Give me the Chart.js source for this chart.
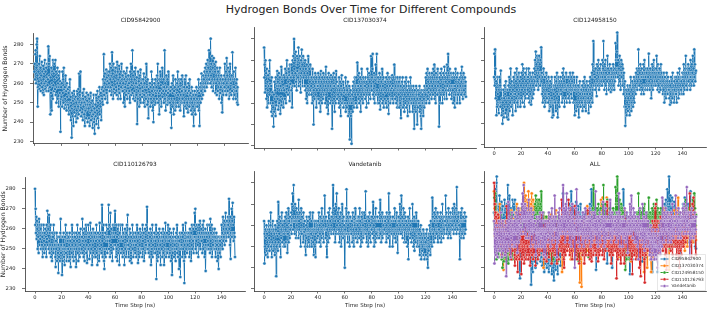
<!DOCTYPE html>
<html><head><meta charset="utf-8">
<script src="https://cdn.jsdelivr.net/npm/chart.js@4.4.1/dist/chart.umd.min.js"></script>
<style>
html,body{margin:0;padding:0;background:#fff;}
#wrap{position:relative;width:708px;height:310px;overflow:hidden;font-family:"DejaVu Sans",sans-serif;}
canvas{position:absolute;}
.t{position:absolute;white-space:nowrap;color:#222;transform:translate(-50%,-50%);line-height:1;}
</style></head><body><div id="wrap"></div>
<script>
// ---------- data ----------
const timeStepNs = 0.25;
const xTickLabels = [0,20,40,60,80,100,120,140];
const yTickLabels = [230,240,250,260,270,280];
const compounds = ['CID95842900','CID137030374','CID124958150','CID110126793','Vandetanib'];

const hbCID95842900 = [
266,270,262,275,277,260,268,280,283,264,248,258,266,261,270,257,274,263,268,256,
264,260,271,258,266,255,269,262,254,265,260,272,257,266,261,268,256,263,270,259,
262,279,256,270,264,274,258,244,263,255,268,246,260,266,252,272,259,265,256,270,
262,257,272,254,266,250,263,258,268,252,260,264,248,258,266,255,261,235,252,258,
253,260,248,266,255,262,250,268,257,247,258,252,264,249,256,246,260,253,250,257,
249,255,244,258,250,262,246,253,241,250,232,247,255,243,251,238,248,256,245,252,
248,243,253,240,250,246,256,242,252,248,257,244,265,250,254,246,266,249,243,252,
250,245,255,241,252,248,257,244,250,238,253,246,249,242,255,247,251,240,249,254,
247,242,252,238,249,245,255,241,250,246,243,251,237,248,244,254,240,247,234,245,
249,243,254,239,251,246,256,242,250,237,253,247,258,244,251,248,255,241,252,257,
252,258,249,262,256,275,254,260,265,252,262,258,267,255,263,250,261,266,258,264,
260,266,256,270,262,258,268,254,264,276,259,265,252,270,262,257,268,261,255,266,
268,258,264,254,271,260,266,252,262,257,269,255,263,260,252,266,258,270,256,262,
264,256,260,250,266,258,262,248,258,265,254,261,256,268,252,262,259,264,255,260,
256,262,250,266,258,270,254,262,259,277,255,264,252,260,266,256,262,251,268,258,
260,254,263,239,258,252,266,256,261,248,259,264,254,267,250,260,256,262,253,258,
256,262,250,265,254,260,248,258,263,252,270,255,258,249,262,254,242,257,252,260,
254,260,248,258,252,266,250,256,262,246,254,240,258,252,260,249,256,262,250,255,
258,252,264,256,270,250,260,255,244,262,256,266,252,259,248,262,255,268,253,258,
256,262,250,258,277,252,260,246,256,264,254,258,249,262,255,266,250,257,252,258,
250,256,245,258,237,252,260,248,255,264,250,244,256,252,258,246,262,250,254,248,
255,260,250,266,254,258,248,262,252,257,246,260,254,262,250,256,264,252,258,250,
254,243,258,250,262,248,256,264,252,247,258,250,255,245,260,252,256,248,262,254,
250,255,246,252,258,244,250,256,248,254,238,252,246,256,250,244,254,248,258,250,
252,248,256,250,262,246,255,238,252,258,250,260,256,265,252,262,258,254,264,260,
262,258,266,256,268,260,264,270,258,266,262,272,260,268,264,277,262,270,266,260,
283,264,270,258,274,262,268,256,266,273,260,270,262,266,255,271,260,264,254,268,
262,256,266,258,264,252,260,268,255,262,258,264,250,260,245,256,262,254,260,258,
264,258,270,256,262,266,254,273,260,264,256,268,258,262,252,266,260,270,255,262,
260,254,264,256,276,258,262,252,266,258,254,262,256,268,252,260,256,262,250,258,
249];

const hbCID137030374 = [
276,262,268,255,270,258,264,252,266,248,260,256,263,250,258,265,254,270,259,262,
250,258,246,262,244,255,250,248,239,254,246,260,252,256,244,262,249,253,258,265,
252,260,247,258,264,250,256,262,245,258,253,267,249,256,260,252,262,248,257,263,
256,262,252,266,258,250,264,255,270,258,262,254,260,266,256,263,251,268,259,262,
262,256,268,248,264,270,258,272,262,280,266,258,270,264,274,260,268,256,272,265,
268,262,276,258,270,264,272,260,266,255,270,264,275,262,268,258,272,266,262,270,
264,258,270,256,266,252,262,268,250,264,258,272,256,262,254,266,260,268,256,262,
258,254,262,250,266,256,260,240,256,262,252,258,264,254,260,248,262,256,258,252,
258,264,252,260,250,262,256,246,258,265,254,260,250,262,256,252,264,258,254,260,
256,262,250,258,267,254,260,248,262,256,245,258,264,252,260,256,262,250,258,263,
256,260,238,254,262,250,258,264,252,258,246,262,256,250,265,254,260,252,258,256,
254,258,250,262,248,256,260,252,244,258,254,263,250,256,252,260,248,257,255,250,
256,250,262,246,254,258,248,256,250,260,244,254,252,258,246,233,250,256,244,252,
231,250,254,246,258,252,260,248,256,250,262,254,258,250,262,256,248,269,258,254,
258,252,264,250,260,256,262,246,258,254,266,252,260,256,250,262,258,254,260,256,
258,252,262,256,248,260,254,266,256,262,250,258,264,254,260,256,252,262,272,258,
256,262,266,273,254,260,252,264,258,250,262,256,268,254,262,273,256,260,250,262,
254,260,250,264,256,247,258,262,252,260,256,266,250,258,254,262,248,256,260,252,
255,260,250,262,256,248,258,264,252,260,245,256,262,254,258,250,260,256,252,262,
257,263,252,258,250,262,256,268,254,260,252,258,262,250,256,260,248,262,256,258,
254,260,248,256,262,250,258,243,256,252,260,254,262,248,256,252,258,246,254,260,
250,256,262,248,258,252,256,244,254,260,250,258,252,246,256,262,250,254,258,250,
252,256,246,254,258,250,238,252,256,248,254,246,258,250,254,240,252,248,256,250,
254,250,258,246,252,256,244,238,250,256,248,254,250,244,256,252,248,258,250,256,
254,262,250,264,258,256,266,252,260,255,262,250,264,258,254,262,256,260,252,264,
258,262,254,266,256,260,268,252,262,258,250,264,260,256,262,254,266,258,260,256,
239,256,262,250,264,258,254,266,256,260,250,262,256,264,254,260,267,252,258,262,
260,256,264,252,268,258,262,273,256,264,260,254,266,258,262,256,264,252,262,258,
262,256,250,264,258,254,262,248,258,266,254,260,256,262,250,264,258,254,260,256,
261,256,250,262,258,264,254,260,267,256,262,252,258,264,256,260,254,262,258,260,
253];

const hbCID124958150 = [
262,273,258,275,266,252,260,244,256,248,262,254,250,258,245,256,262,250,258,248,
265,250,256,244,252,240,250,246,256,243,252,258,248,254,245,260,250,256,243,252,
248,256,242,258,252,262,246,256,250,266,254,248,260,252,258,244,256,250,262,254,
258,250,264,254,246,260,252,266,256,250,262,248,258,254,264,252,260,256,248,262,
258,252,264,256,268,250,260,254,266,258,248,262,256,264,252,260,258,266,254,262,
256,262,252,266,258,250,260,264,254,258,249,262,256,260,252,264,258,254,262,256,
266,260,270,262,274,258,268,264,272,260,266,256,270,264,272,262,268,258,270,264,
276,260,264,254,262,250,258,266,252,256,248,262,254,258,250,264,256,252,260,254,
258,250,262,254,246,258,252,260,248,256,250,262,252,243,256,250,244,254,258,250,
256,262,250,258,246,260,252,264,254,243,258,250,262,256,248,260,254,258,262,256,
254,260,250,264,258,252,266,256,260,248,262,256,258,252,264,256,250,262,258,254,
258,252,262,256,260,250,264,256,258,254,262,252,260,256,264,258,250,258,262,256,
244,256,250,258,246,254,262,250,256,248,258,252,243,256,250,260,254,248,256,252,
256,250,258,246,254,260,252,256,248,262,254,250,258,246,256,252,260,254,250,258,
252,245,256,250,260,254,262,248,256,252,258,264,250,268,256,279,262,258,266,260,
262,256,266,258,264,253,268,260,264,258,270,262,256,266,260,264,258,268,262,260,
264,258,270,262,266,279,260,264,256,268,262,270,258,264,254,266,260,272,262,266,
262,256,264,258,268,260,262,255,266,258,262,256,264,260,268,258,262,256,264,260,
266,278,262,270,264,274,283,266,262,270,258,266,264,272,260,268,256,264,270,262,
264,268,258,266,260,254,264,256,248,260,239,252,248,256,244,254,250,258,246,252,
256,248,254,244,258,250,262,252,246,256,250,260,254,248,258,252,262,250,256,260,
258,254,264,256,262,266,256,260,258,275,262,266,258,264,256,268,260,262,254,266,
262,256,264,258,268,254,262,270,258,264,256,262,266,258,264,260,256,266,262,258,
273,260,264,256,266,258,262,252,264,258,268,260,256,264,262,270,258,266,260,264,
262,258,266,272,260,264,256,268,262,258,264,255,266,260,262,256,268,260,264,258,
258,262,254,260,256,264,250,258,262,254,260,252,258,264,256,260,254,262,258,256,
256,252,260,249,258,254,262,250,256,260,252,264,256,254,258,250,260,256,262,254,
258,254,262,250,260,256,264,258,252,262,256,266,254,260,258,262,256,260,254,262,
264,258,262,254,268,260,264,256,266,262,272,258,264,260,256,266,262,268,260,264,
266,258,262,256,270,262,264,258,268,260,264,272,262,266,258,275,262,268,260,264,
265];

const hbCID110126793 = [
280,262,270,258,266,255,264,260,250,262,256,248,265,258,252,262,255,260,250,258,
262,252,256,246,258,250,262,254,248,258,252,260,250,256,246,262,255,269,252,258,
260,250,267,254,248,258,252,262,246,256,250,244,258,252,256,248,262,250,254,258,
252,246,241,254,250,258,244,252,256,248,238,252,246,256,250,244,258,265,248,252,
256,237,250,244,256,250,258,246,252,242,256,250,262,248,254,244,258,250,246,254,
250,256,244,252,258,246,254,241,250,256,248,262,252,246,256,250,244,254,258,250,
256,246,252,241,258,250,254,262,248,256,244,252,258,250,246,256,252,260,248,254,
250,256,265,248,254,258,246,252,260,244,256,250,254,262,248,252,243,256,250,258,
262,250,256,245,258,252,263,248,254,250,258,242,256,252,260,248,254,258,246,256,
250,258,246,254,262,248,256,242,252,258,250,256,244,254,263,250,256,248,258,252,
248,272,254,246,258,250,262,244,240,256,250,258,246,254,262,250,256,248,254,260,
256,272,250,262,254,246,268,256,252,260,248,258,244,256,262,250,258,252,256,262,
269,252,258,246,262,250,256,244,260,252,248,262,254,242,258,250,256,262,248,254,
256,250,262,246,254,258,248,256,242,252,260,250,256,246,258,252,262,254,267,250,
252,246,256,250,260,244,254,258,248,256,243,252,262,250,254,246,258,252,256,248,
254,248,258,252,246,256,262,250,254,243,258,250,256,246,252,260,248,256,250,254,
250,258,246,262,254,250,258,244,256,252,260,248,256,252,262,250,271,254,258,250,
254,248,258,252,246,256,260,250,242,254,258,250,262,246,252,256,248,254,258,250,
256,248,254,262,235,250,256,244,252,258,246,254,250,260,248,256,252,242,254,258,
250,256,246,254,260,248,256,242,252,258,250,263,254,246,256,250,258,248,254,262,
250,256,246,254,260,248,256,252,244,258,250,237,254,248,256,250,260,246,254,252,
250,256,244,254,258,250,262,248,254,246,256,252,240,254,250,258,236,252,256,250,
252,258,246,256,262,250,254,244,233,252,258,246,263,254,250,256,248,258,252,254,
256,250,258,246,254,260,250,256,244,258,252,262,250,256,254,260,248,256,262,268,
256,270,250,260,254,248,262,256,252,258,246,256,262,250,258,264,254,250,256,260,
254,258,248,262,256,250,264,252,258,246,256,260,239,252,258,250,256,262,250,254,
252,258,250,262,256,248,265,254,258,250,262,246,256,260,252,256,250,258,254,260,
250,256,246,254,258,250,252,244,256,248,254,240,250,256,248,254,252,246,256,250,
262,256,258,250,266,254,260,256,264,252,262,258,268,254,260,256,264,262,258,266,
262,256,275,260,264,252,266,245,258,262,270,256,264,273,258,262,254,266,258,256,
246];

const hbVandetanib = [
262,242,256,250,258,246,254,260,248,256,252,245,258,250,262,254,248,258,252,260,
266,250,256,245,258,252,262,248,254,258,250,256,246,260,252,258,236,250,256,262,
255,248,271,252,260,256,264,250,258,245,262,254,258,266,252,260,256,262,250,258,
256,262,250,264,258,252,266,256,260,247,262,256,268,252,258,262,254,264,258,260,
260,266,256,270,262,275,258,264,279,262,268,256,270,262,264,254,268,260,266,262,
258,264,254,272,262,258,266,256,264,250,268,260,256,264,258,262,252,266,258,262,
257,262,250,258,246,260,254,264,256,250,262,256,258,252,264,256,250,266,258,254,
256,262,250,258,254,266,252,258,246,256,262,250,258,245,256,262,252,258,254,260,
255,262,258,266,252,260,256,264,250,258,262,254,268,258,262,256,260,252,264,258,
274,258,262,254,264,258,250,245,258,262,252,266,256,260,254,268,258,262,256,264,
260,256,264,258,266,279,262,256,268,258,264,252,262,270,256,264,275,260,258,266,
262,256,268,258,252,264,260,256,266,250,262,258,270,256,262,254,264,258,260,256,
240,258,262,256,268,277,262,256,264,252,260,266,256,262,250,258,264,256,262,258,
256,262,252,260,266,254,258,250,264,256,260,268,254,262,258,256,262,252,260,264,
262,256,264,254,268,258,262,250,260,256,264,252,266,258,260,254,262,258,266,256,
262,258,276,256,262,252,264,258,260,250,264,256,262,254,266,258,260,252,264,258,
258,264,256,262,271,254,260,250,262,258,264,252,268,256,262,258,254,264,258,262,
258,262,254,266,258,272,256,262,252,264,258,266,254,262,258,260,256,264,258,262,
262,256,264,252,260,266,256,258,264,254,262,275,258,266,250,260,264,256,262,258,
256,262,250,264,258,254,262,256,268,258,254,262,252,258,266,256,260,247,258,262,
264,256,262,258,270,260,266,256,274,262,258,264,254,262,268,258,260,252,266,262,
258,264,252,262,256,260,250,258,264,244,256,262,258,268,254,260,256,262,252,258,
258,270,254,262,250,258,264,248,256,262,252,258,266,254,262,250,258,256,262,254,
256,250,258,246,254,252,260,244,252,256,248,254,250,258,246,252,256,244,254,250,
252,246,256,250,258,244,250,240,254,248,256,250,260,252,246,256,262,252,258,250,
273,258,264,256,262,252,266,258,262,254,268,260,264,256,262,258,266,252,262,258,
258,264,254,262,256,266,252,260,264,256,270,258,262,254,264,258,260,256,262,264,
274,260,266,256,264,258,262,254,268,260,264,256,262,258,266,254,262,258,264,260,
262,268,258,264,256,270,262,266,258,264,260,268,256,278,262,266,258,264,260,266,
260,256,244,262,258,266,254,262,268,256,262,258,264,254,262,258,266,256,262,258,
264];

const seriesValues = [hbCID95842900, hbCID137030374, hbCID124958150, hbCID110126793, hbVandetanib];
const seriesColors = ['#1f77b4','#ff7f0e','#2ca02c','#d62728','#9467bd'];
const singleColor = '#1f77b4';

// ---------- layout ----------
Chart.defaults.font.family = '"DejaVu Sans", sans-serif';
const wrap = document.getElementById('wrap');
const TXT = '#262626';
const AX = '#333333';

function addText(txt, x, y, size, extra){
  const d = document.createElement('div');
  d.className = 't';
  d.textContent = txt;
  d.style.left = x + 'px'; d.style.top = y + 'px';
  d.style.fontSize = size + 'px';
  if (extra) Object.assign(d.style, extra);
  wrap.appendChild(d);
}

addText('Hydrogen Bonds Over Time for Different Compounds', 371, 8.5, 11);

const legendPlugin = {
  id: 'hbLegend',
  afterDatasetsDraw(chart, args, opts) {
    if (!opts || !opts.show) return;
    const ctx = chart.ctx;
    const ca = chart.chartArea;
    const bw = 48, bh = 36;
    const bx = ca.right - bw - 0.5, by = ca.bottom - bh - 0.5;
    ctx.save();
    ctx.fillStyle = 'rgba(255,255,255,0.8)';
    ctx.strokeStyle = 'rgba(204,204,204,0.8)';
    ctx.lineWidth = 0.6;
    ctx.beginPath();
    ctx.rect(bx, by, bw, bh);
    ctx.fill(); ctx.stroke();
    ctx.font = '4.3px "DejaVu Sans"';
    ctx.textBaseline = 'middle';
    ctx.textAlign = 'left';
    chart.data.datasets.forEach((ds, i) => {
      const yy = by + 4.5 + i * 6.75;
      ctx.strokeStyle = ds.borderColor;
      ctx.lineWidth = 1;
      ctx.beginPath(); ctx.moveTo(bx + 3, yy); ctx.lineTo(bx + 11, yy); ctx.stroke();
      ctx.fillStyle = ds.borderColor;
      ctx.beginPath(); ctx.arc(bx + 7, yy, 1.5, 0, Math.PI * 2); ctx.fill();
      ctx.strokeStyle = '#fff'; ctx.lineWidth = 0.4; ctx.stroke();
      ctx.fillStyle = '#333';
      ctx.fillText(ds.label, bx + 14, yy + 0.3);
    });
    ctx.restore();
  }
};

const panels = [
  {title: compounds[0], series: [0], L: 33, R: 248, T: 27, B: 148, xMin: -1, xLabels: false, xTitle: false, yLabels: true, xh: 5, yTitleX: 5.5},
  {title: compounds[1], series: [1], L: 254, R: 476, T: 27, B: 148, xMin: -7.5, xLabels: false, xTitle: false, yLabels: false, xh: 5},
  {title: compounds[2], series: [2], L: 484, R: 706, T: 27, B: 147, xMin: -7.5, xLabels: true, xTitle: false, yLabels: false, xh: 12},
  {title: compounds[3], series: [3], L: 25, R: 245, T: 171, B: 291, xMin: -7.5, xLabels: true, xTitle: true, yLabels: true, xh: 19, yTitleX: 3.7},
  {title: compounds[4], series: [4], L: 254, R: 476, T: 171, B: 291, xMin: -7.5, xLabels: true, xTitle: true, yLabels: false, xh: 19},
  {title: 'ALL', series: [0,1,2,3,4], L: 484, R: 706, T: 171, B: 291, xMin: -7.5, xLabels: true, xTitle: true, yLabels: false, xh: 19, legend: true}
];

function buildPanel(p) {
  const canvasLeft = p.yLabels ? 0 : p.L - 6;
  const yw = p.L - canvasLeft;
  const padTop = 3, padRight = 2;
  const canvasTop = p.T - padTop;
  const w = yw + (p.R - p.L) + padRight;
  const h = padTop + (p.B - p.T) + p.xh;
  const cv = document.createElement('canvas');
  cv.width = w; cv.height = h;
  cv.style.left = canvasLeft + 'px'; cv.style.top = canvasTop + 'px';
  cv.style.width = w + 'px'; cv.style.height = h + 'px';
  wrap.appendChild(cv);

  addText(p.title, (p.L + p.R) / 2, p.T - 6, 5.8);

  const multi = p.series.length > 1;
  const datasets = p.series.map(s => {
    const col = multi ? seriesColors[s] : singleColor;
    return {
      label: compounds[s],
      data: seriesValues[s].map((v, i) => ({x: i * timeStepNs, y: v})),
      order: 4 - s,
      borderColor: col,
      backgroundColor: col,
      pointBackgroundColor: col,
      pointBorderColor: '#ffffff',
      pointBorderWidth: 0.4,
      pointRadius: 1.6,
      pointHoverRadius: 1.6,
      borderWidth: 1,
      tension: 0,
      fill: false
    };
  });

  const yTitleLH = 6.2 * 1.2;
  new Chart(cv, {
    type: 'line',
    data: {datasets},
    plugins: [legendPlugin],
    options: {
      responsive: false,
      animation: false,
      devicePixelRatio: 1,
      events: [],
      layout: {padding: {top: padTop, right: padRight, left: 0, bottom: 0}, autoPadding: false},
      plugins: {
        legend: {display: false},
        tooltip: {enabled: false},
        title: {display: false},
        hbLegend: {show: !!p.legend}
      },
      scales: {
        x: {
          type: 'linear', min: p.xMin, max: 157.5,
          afterBuildTicks: s => { s.ticks = xTickLabels.map(v => ({value: v})); },
          afterFit: s => { s.height = p.xh; },
          ticks: {display: p.xLabels, autoSkip: false, maxRotation: 0, font: {size: 5.2}, color: TXT, padding: 1},
          grid: {display: true, drawOnChartArea: false, drawTicks: true, tickLength: 2.5, color: AX, tickColor: AX, lineWidth: 0.7},
          border: {display: true, color: AX, width: 0.8},
          title: {display: p.xTitle, text: 'Time Step (ns)', font: {size: 5.5}, color: TXT, padding: {top: 0, bottom: 1}}
        },
        y: {
          type: 'linear', min: 229, max: 285.6,
          afterBuildTicks: s => { s.ticks = yTickLabels.map(v => ({value: v})); },
          afterFit: s => { s.width = yw; },
          ticks: {display: p.yLabels, font: {size: 5.2}, color: TXT, padding: 6.5},
          grid: {display: true, drawOnChartArea: false, drawTicks: true, tickLength: 3, color: AX, tickColor: AX, lineWidth: 0.7},
          border: {display: true, color: AX, width: 0.8},
          title: {display: p.yLabels, text: 'Number of Hydrogen Bonds', font: {size: 6.2}, color: TXT,
                  padding: {top: Math.max(0, (p.yTitleX || 6) - yTitleLH / 2), bottom: 0}}
        }
      }
    }
  });
}

panels.forEach(buildPanel);
</script>
</body></html>
